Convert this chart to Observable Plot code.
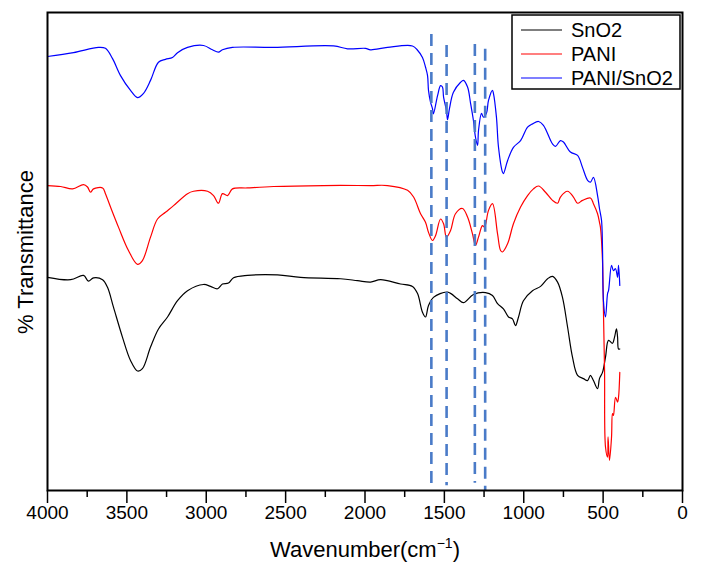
<!DOCTYPE html>
<html>
<head>
<meta charset="utf-8">
<script src="https://cdn.jsdelivr.net/npm/d3@7"></script>
<script src="https://cdn.jsdelivr.net/npm/@observablehq/plot@0.6"></script>
<style>
  html, body { margin: 0; padding: 0; background: #fff; }
  #chart { width: 705px; height: 570px; }
</style>
</head>
<body>
<div id="chart"></div>
<script>
// ---- Data: [wavenumber (cm^-1), % transmittance (offset, arbitrary)] ----
const sno2 = [
  [4000,44.6],[3854,44.1],[3773,45.0],[3742,43.8],[3710,44.5],[3653,44.1],[3622,42.5],
  [3584,38.3],[3528,32.1],[3477,27.2],[3433,25.0],[3402,25.5],[3351,30.0],[3301,33.8],
  [3244,36.3],[3181,39.7],[3118,41.8],[3017,43.1],[2973,42.7],[2929,42.2],[2898,43.2],
  [2860,43.4],[2828,44.5],[2740,45.0],[2551,45.1],[2406,44.6],[2154,44.3],[2047,43.9],
  [1965,43.6],[1902,44.1],[1776,43.2],[1701,42.7],[1669,41.2],[1638,37.3],[1619,36.3],
  [1600,38.7],[1569,40.4],[1480,41.5],[1417,40.1],[1380,39.3],[1317,41.0],[1241,41.4],
  [1197,40.8],[1165,39.1],[1128,38.0],[1096,36.3],[1071,35.9],[1052,34.5],[1033,36.3],
  [1002,39.7],[945,41.8],[894,42.7],[850,44.3],[819,44.8],[787,43.6],[756,40.4],
  [724,34.2],[693,27.9],[661,24.1],[624,23.4],[598,23.0],[580,24.1],[561,23.0],
  [535,21.3],[523,23.4],[504,24.7],[485,27.9],[466,31.4],[441,30.8],[428,32.1],
  [416,33.8],[409,32.1],[403,29.6],[395,29.6]
];
const pani = [
  [4000,63.8],[3917,63.6],[3842,63.1],[3773,64.0],[3748,63.5],[3729,62.4],[3710,63.1],
  [3653,63.3],[3635,62.1],[3603,59.3],[3553,55.1],[3490,50.2],[3433,47.3],[3402,48.1],
  [3351,53.0],[3307,56.8],[3257,58.2],[3206,59.6],[3118,62.1],[3080,62.6],[2992,62.6],
  [2954,61.7],[2923,60.1],[2898,62.1],[2866,61.7],[2835,63.1],[2740,63.3],[2576,63.6],
  [2261,63.8],[1965,63.8],[1858,63.8],[1732,62.8],[1694,61.4],[1650,57.9],[1619,56.1],
  [1600,54.0],[1575,52.3],[1556,53.3],[1524,56.8],[1505,55.8],[1487,53.0],[1461,54.4],
  [1430,57.9],[1386,59.0],[1354,57.2],[1323,53.7],[1304,51.3],[1285,53.0],[1260,55.4],
  [1247,55.1],[1222,58.6],[1197,60.0],[1165,53.7],[1146,50.2],[1134,49.9],[1102,51.6],
  [1065,55.8],[1020,59.3],[976,61.7],[939,63.1],[907,63.7],[863,62.4],[819,60.7],
  [787,60.1],[769,61.4],[724,62.6],[687,61.4],[661,60.1],[630,60.7],[580,61.2],
  [561,60.0],[535,57.9],[523,56.1],[517,55.1],[504,48.1],[498,37.7],[491,25.1],
  [485,9.1],[472,7.0],[469,11.2],[460,6.3],[447,11.2],[441,16.1],[435,15.7],
  [422,19.5],[409,18.5],[403,19.5],[395,24.7]
];
const paniSno2 = [
  [4000,90.8],[3836,91.6],[3679,92.7],[3635,92.5],[3591,90.4],[3540,86.8],[3477,83.7],
  [3433,82.2],[3395,83.1],[3351,85.8],[3301,89.6],[3257,90.2],[3213,90.6],[3181,91.6],
  [3118,92.7],[3017,93.1],[2961,92.2],[2923,91.7],[2898,92.2],[2835,92.7],[2576,92.7],
  [2198,93.0],[2110,92.4],[1997,92.5],[1965,92.2],[1858,92.7],[1701,93.0],[1669,92.1],
  [1638,90.6],[1619,88.6],[1606,86.8],[1600,83.7],[1587,81.2],[1575,79.9],[1569,78.8],
  [1543,82.6],[1524,84.7],[1512,84.4],[1505,82.3],[1487,79.5],[1480,77.6],[1468,79.9],
  [1443,83.3],[1398,85.4],[1380,85.8],[1354,84.4],[1335,81.0],[1317,77.4],[1304,73.9],
  [1291,72.2],[1285,75.3],[1266,78.9],[1254,78.1],[1235,78.9],[1222,81.6],[1197,83.7],
  [1191,83.1],[1172,78.1],[1159,71.8],[1134,66.6],[1128,66.3],[1102,69.0],[1065,71.8],
  [1020,73.2],[976,76.0],[945,76.7],[907,77.2],[876,76.4],[819,72.5],[800,72.0],
  [769,73.2],[750,72.9],[706,70.8],[661,70.1],[630,67.6],[598,64.9],[580,64.5],
  [561,65.5],[535,61.7],[523,59.0],[510,56.5],[504,50.9],[498,39.7],[485,36.3],
  [472,41.2],[466,41.8],[447,47.1],[435,46.0],[422,46.4],[409,44.6],[403,47.1],[395,42.9]
];
// marker lines (wavenumber, top and bottom in % transmittance units)
const peakWave = [1582, 1486, 1308, 1243];
const peakTop = [95.4, 93.1, 93.3, 92.3];
const peakBottom = [0, 1.0, 1.5, 0];
const majorTicks = [4000, 3500, 3000, 2500, 2000, 1500, 1000, 500, 0];
const minorTicks = [3750, 3250, 2750, 2250, 1750, 1250, 750, 250];
const seriesNames = ["SnO2", "PANI", "PANI/SnO2"];
const seriesColors = ["#000000", "#ff0000", "#0000ff"];

const peaks = peakWave.map((w, i) => ({w, top: peakTop[i], bottom: peakBottom[i]}));
const FONT = "'Liberation Sans', Arial, Helvetica, sans-serif";

const svg = Plot.plot({
  width: 705,
  height: 570,
  marginLeft: 47,
  marginRight: 23,
  marginTop: 12,
  marginBottom: 80,
  x: {domain: [4000, 0]},
  y: {domain: [0, 100], axis: null},
  style: {fontFamily: FONT, fontSize: "19px", background: "#ffffff", color: "#000000", overflow: "visible"},
  marks: [
    Plot.axisX({ticks: minorTicks, tickSize: 7, strokeWidth: 1.5, tickFormat: () => "", label: null}),
    Plot.axisX({ticks: majorTicks, tickSize: 13, tickPadding: 2, strokeWidth: 1.5, fontSize: 19,
                tickFormat: d => String(d), label: null}),
    Plot.line(sno2, {x: d => d[0], y: d => d[1], stroke: seriesColors[0], strokeWidth: 1.2, curve: "catmull-rom"}),
    Plot.line(pani, {x: d => d[0], y: d => d[1], stroke: seriesColors[1], strokeWidth: 1.2, curve: "catmull-rom"}),
    Plot.line(paniSno2, {x: d => d[0], y: d => d[1], stroke: seriesColors[2], strokeWidth: 1.2, curve: "catmull-rom"}),
    Plot.ruleX(peaks, {x: "w", y1: "top", y2: "bottom", stroke: "#4a7bc8", strokeWidth: 2.6,
                       strokeDasharray: "12,7"}),
    Plot.frame({stroke: "#000000", strokeWidth: 2})
  ]
});

const s = d3.select(svg);
// y-axis label
s.append("text")
  .attr("transform", "translate(33,252) rotate(-90)")
  .attr("text-anchor", "middle")
  .attr("font-family", FONT)
  .attr("font-size", 22)
  .attr("fill", "#000")
  .text("% Transmittance");
// x-axis label with superscript
const xl = s.append("text")
  .attr("x", 365).attr("y", 557)
  .attr("text-anchor", "middle")
  .attr("font-family", FONT)
  .attr("font-size", 22)
  .attr("fill", "#000");
xl.append("tspan").text("Wavenumber(cm");
xl.append("tspan").attr("dy", -9).attr("font-size", 14).text("\u22121");
xl.append("tspan").attr("dy", 9).text(")");
// legend
const lg = s.append("g").attr("font-family", FONT).attr("font-size", 20).attr("text-anchor", "start");
lg.append("rect").attr("x", 512).attr("y", 15).attr("width", 168).attr("height", 74)
  .attr("fill", "#fff").attr("stroke", "#000").attr("stroke-width", 1.5);
seriesNames.forEach((name, i) => {
  const cy = 30 + i * 24;
  lg.append("line").attr("x1", 521).attr("x2", 562).attr("y1", cy).attr("y2", cy)
    .attr("stroke", seriesColors[i]).attr("stroke-width", 1.2);
  lg.append("text").attr("x", 571).attr("y", cy + 7).attr("text-anchor", "start")
    .attr("fill", "#000").text(name);
});

document.getElementById("chart").appendChild(svg);
</script>
</body>
</html>
